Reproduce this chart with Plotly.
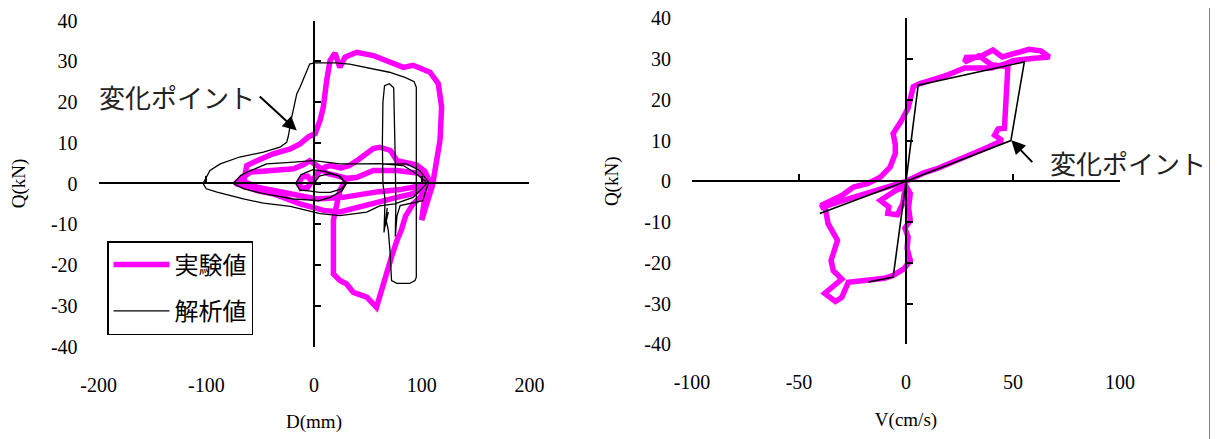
import plotly.graph_objects as go

# ---------------- data: left panel (D-Q) ----------------
exp_D = [-2, -6, -11, -14, -12, -6, -2, 3, 10, 15, 25, 33, 42, 49, 55, 61, 66, 71, 77, 85, 95, 103, 108,
         104, 100, 90, 77, 58, 40, 24, 9, -5, -13, -25, -38, -52, -62, -73,
         -66, -59, -48, -35, -19, -10, -4, 5, 12, 20, 30, 40, 55, 77, 98, 104,
         100, 80, 60, 27, 2.5, -22, -53, -65,
         -62.5, -53, -38, -22, -13, -5, 1, 5.6, 8.6, 11.8, 14.9, 19.5, 22, 24, 28.8, 39.6, 55, 70.6, 83, 92,
         100, 107.7, 115.4, 118.5, 117, 114, 112, 110, 107, 103, 100, 102, 104,
         92, 85, 81, 77, 72, 67.5, 63, 58, 49, 36.5, 30, 24, 18, 17.5, 18, 18, 21, 24, 30, 40, 55, 77, 98, 108]
exp_Q = [0.5, 1.8, 1.6, 0.3, -1.2, -1.0, 0.5, 2.5, 4.0, 4.4, 3.8, 4.4, 6.0, 7.3, 8.6, 8.9, 8.5, 8.1, 5.6, 5.0, 4.6, 3.0, 0,
         -1.2, -1.7, -2.6, -3.4, -4.6, -5.8, -7.0, -6.6, -5.8, -5.0, -3.8, -2.5, -1.8, -1.0, 0,
         1.5, 2.8, 3.0, 3.2, 3.6, 4.6, 5.6, 4.0, 2.5, 2.0, 1.3, 1.5, 3.2, 3.2, 2.5, 0.8,
         -0.5, -1.5, -2.0, -3.4, -3.8, -2.5, -0.9, 0.5,
         4.4, 5.6, 7.3, 8.5, 9.7, 11.5, 12.2, 15.5, 18.7, 25.3, 30.2, 32.0, 29.5, 28.5, 31.0, 32.2, 31.4, 29.8, 28.5, 29.0,
         28.3, 27.3, 24.5, 18.7, 10.6, 5.6, 2.4, -0.5, -3.0, -6.0, -9.0, -5.0, -2.0,
         -5.0, -8.0, -11.5, -14.0, -18.0, -22.2, -26.0, -30.4, -27.9, -26.7, -24.6, -23.8, -22.2, -18.0, -14.0, -9.0, -5.0, -1.7, 1.1, 1.5, 3.2, 3.2, 2.5, 0]

ana_D = [0, 5, 14, 24, 30, 25, 15, 5, -5, -13, -17, -12, -1, 10, 22, 30,
         26, 15, 5, -19, -47, -65, -75,
         -68, -62, -44, -22, 0, 24, 61, 86, 98, 106,
         101.5, 92, 75, 61, 49, 24, 5.6, -22, -47, -65.6, -90, -100, -103,
         -96.6, -87, -69, -47, -31.6, -25.4, -24, -20.7, -16, -13, -8.4, -4, 0, 20, 33, 50, 70, 85, 93, 95,
         95, 93.8, 89, 77, 72, 70.5, 69, 67, 69, 66, 68, 65, 66, 64, 63.5, 64, 65.5, 70, 74, 75, 75.5, 76, 75.5,
         77, 80, 101, 106, 95, 83, 61, 40]
ana_Q = [0, 1.8, 2.4, 1.8, 0, -1.4, -2.2, -2.2, -1.8, -1.6, 0, 2.2, 3.4, 3.0, 2.0, 0,
         -1.8, -3.4, -4.2, -3.8, -2.5, -1.3, 0,
         2.0, 2.8, 4.8, 5.2, 5.6, 4.8, 4.8, 4.8, 3.2, 0.5,
         -0.9, -3.4, -5.0, -5.5, -7.0, -7.9, -7.4, -5.6, -4.8, -3.8, -2.1, -1.3, 0,
         3.2, 4.8, 6.5, 7.7, 8.9, 10.1, 11.4, 16.3, 22.0, 23.6, 26.3, 29.3, 29.6, 29.6, 29.3, 28.3, 27.3, 26.0, 25.0, 23.6,
         -23.0, -23.8, -24.5, -24.5, -23.8, -16.4, -11.5, -9.0, -7.0, -10.5, -6.0, -12.0, -4.0, 0, 10.0, 20.0, 24.0, 24.5, 23.5, 15.0, 5.0, -5.0, -13.0,
         -8.0, -5.4, -4.2, 0, 2.4, 4.4, 4.9, 4.8]

# ---------------- data: right panel (V-Q) ----------------
exp_V = [0, -10, -20, -30, -40, -38, -36.4, -32, -35, -34, -30, -36, -38, -33, -30, -27, -18, -10, -6, -1, 2,
         0.5, 1, -0.5, 2, 1.2, 2, 0, -5, -12, -8, -8.5, -4, -1.5, 0,
         8, 15, 22, 30, 38, 45, 41.4, 43, 46, 47, 47.6,
         40, 34, 27.4, 28.2, 34.4, 40.6, 45, 50.4, 57.4, 63, 67, 60, 50, 46.8, 40, 27.4, 19, 10, 6.5, 3.4, 2,
         1, -2, -6, -5, -5, -7.4, -12, -18, -24.5, -30, -40]
exp_Q2 = [0, -1.5, -3.2, -4.8, -6.5, -5.8, -10.4, -14.5, -19.4, -21.9, -24.0, -26.5, -27.5, -29.5, -28.5, -24.8, -24.3, -23.8, -23.1, -21.5, -19.4,
          -16.5, -13.7, -11.5, -9.6, -6.5, -3.0, -1.2, -2.3, -4.7, -6.3, -7.9, -8.2, -5.5, 0,
          2.0, 3.2, 4.6, 6.5, 8.3, 10.0, 11.3, 12.8, 13.0, 20.0, 28.1,
          28.6, 30.8, 29.3, 30.4, 30.5, 32.2, 30.5, 31.4, 32.4, 32.0, 30.5, 30.2, 29.6, 28.9, 27.8, 27.8, 26.0, 24.5, 24.0, 23.2, 20.7,
          18.0, 15.0, 11.7, 9.0, 6.8, 3.5, 1.0, -0.6, -1.4, -3.5, -6.0]

ana_V = [-17.5, -6, 0, 5.7, 55.3, 49, 0, -40.3, 0]
ana_Q2 = [-24.7, -23.5, 0, 23.6, 29.3, 10, 0, -7.9, 0]

# tick values / labels
d_ticks = [-200, -100, 0, 100, 200]
v_ticks = [-100, -50, 0, 50, 100]
q_ticks = [-40, -30, -20, -10, 0, 10, 20, 30, 40]
d_text = ["-200", "-100", "0", "100", "200"]
v_text = ["-100", "-50", "0", "50", "100"]
q_text = ["-40", "-30", "-20", "-10", "0", "10", "20", "30", "40"]

MAGENTA = "#FF00FF"
SERIF = "Liberation Serif, Times New Roman, serif"
JP = "Noto Sans CJK JP, sans-serif"

# figure is offset by the page's 8px body margin
OFF = 8
W, H = 1218 - OFF, 439 - OFF


def px_x(p):
    return (p - OFF) / W


def px_y(p):
    return 1 - (p - OFF) / H


fig = go.Figure()
fig.add_trace(go.Scatter(x=exp_D, y=exp_Q, mode="lines", name="実験値", legendgroup="exp",
                         line=dict(color=MAGENTA, width=5.5), xaxis="x", yaxis="y"))
fig.add_trace(go.Scatter(x=ana_D, y=ana_Q, mode="lines", name="解析値", legendgroup="ana",
                         line=dict(color="black", width=1.3), xaxis="x", yaxis="y"))
fig.add_trace(go.Scatter(x=exp_V, y=exp_Q2, mode="lines", name="実験値", showlegend=False,
                         line=dict(color=MAGENTA, width=5.5), xaxis="x2", yaxis="y2"))
fig.add_trace(go.Scatter(x=ana_V, y=ana_Q2, mode="lines", name="解析値", showlegend=False,
                         line=dict(color="black", width=1.6), xaxis="x2", yaxis="y2"))
# dummy traces so the crossing axes are drawn
for xa, ya in [("x3", "y3"), ("x4", "y4")]:
    fig.add_trace(go.Scatter(x=[None], y=[None], xaxis=xa, yaxis=ya, showlegend=False, hoverinfo="skip"))

L_dom = [px_x(98.6), px_x(529.4)]
L_ydom = [px_y(346.5), px_y(20.5)]
R_dom = [px_x(692), px_x(1120)]
R_ydom = [px_y(344.3), px_y(18.3)]

tickfont = dict(family=SERIF, size=20, color="black")
titlefont = dict(family=SERIF, size=19, color="black")

base_x = dict(showline=False, showgrid=False, zeroline=False, ticks="", tickfont=tickfont,
              ticklabelstandoff=24, title_font=titlefont, title_standoff=20, fixedrange=True,
              automargin=False, tickmode="array", ticklabeloverflow="allow")
base_y = dict(showline=False, showgrid=False, zeroline=False, ticks="", tickfont=tickfont,
              ticklabelstandoff=20, title_font=titlefont, title_standoff=20, range=[-40, 40],
              tickmode="array", tickvals=q_ticks, ticktext=q_text, fixedrange=True, automargin=False,
              ticklabeloverflow="allow")
cross = dict(showline=True, linecolor="black", linewidth=1.6, ticks="inside", ticklen=6,
             tickwidth=1.5, tickcolor="black", showticklabels=False, showgrid=False, zeroline=False,
             anchor="free", automargin=False, fixedrange=True, tickmode="array")

fig.update_layout(
    width=W, height=H, margin=dict(l=0, r=0, t=0, b=0, autoexpand=False),
    paper_bgcolor="white", plot_bgcolor="rgba(0,0,0,0)",
    xaxis=dict(base_x, domain=L_dom, range=[-200, 200], tickvals=d_ticks, ticktext=d_text,
               title_text="D(mm)", anchor="y"),
    yaxis=dict(base_y, domain=L_ydom, title_text="Q(kN)", anchor="x"),
    xaxis2=dict(base_x, domain=R_dom, range=[-100, 100], tickvals=v_ticks, ticktext=v_text,
                title_text="V(cm/s)", anchor="y2"),
    yaxis2=dict(base_y, domain=R_ydom, title_text="Q(kN)", anchor="x2"),
    xaxis3=dict(cross, overlaying="x", range=[-200, 200], tickvals=d_ticks, position=px_y(183)),
    yaxis3=dict(cross, overlaying="y", range=[-40, 40], tickvals=q_ticks, position=px_x(314), side="left"),
    xaxis4=dict(cross, overlaying="x2", range=[-100, 100], tickvals=v_ticks, position=px_y(181)),
    yaxis4=dict(cross, overlaying="y2", range=[-40, 40], tickvals=q_ticks, position=px_x(906), side="left"),
    legend=dict(x=px_x(107), y=px_y(241), xanchor="left", yanchor="top",
                bgcolor="white", bordercolor="black", borderwidth=1.5,
                font=dict(family=JP, size=24, color="black"), itemwidth=56,
                traceorder="grouped", tracegroupgap=12),
    showlegend=True,
    annotations=[
        dict(text="変化ポイント", x=-16, y=13, xref="x", yref="y", showarrow=True,
             ax=-37, ay=-34, arrowhead=2, arrowsize=1.4, arrowwidth=2, arrowcolor="black",
             font=dict(family=JP, size=26, color="#222"), xanchor="right", yanchor="middle",
             borderpad=4),
        dict(text="変化ポイント", x=49.2, y=10.1, xref="x2", yref="y2", showarrow=True,
             ax=21, ay=22, arrowhead=2, arrowsize=1.4, arrowwidth=2, arrowcolor="black",
             font=dict(family=JP, size=26, color="#222"), xanchor="left", yanchor="middle",
             borderpad=17),
    ],
    shapes=[dict(type="line", xref="paper", yref="paper", x0=px_x(1211), x1=px_x(1211), y0=0, y1=1,
                 line=dict(color="black", width=3))],
)

fig.write_html("out.html")
